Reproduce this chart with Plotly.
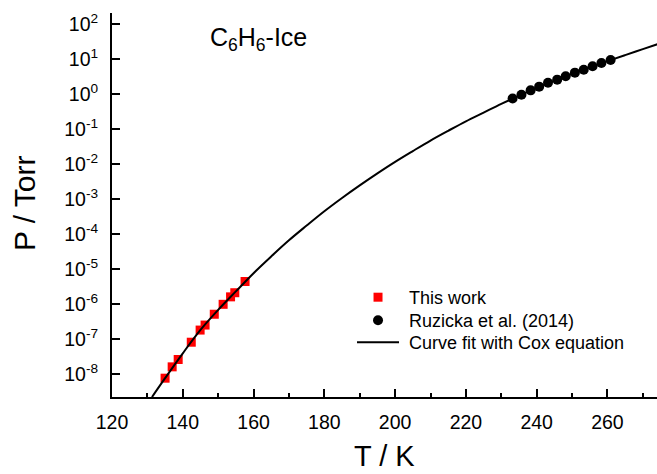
import plotly.graph_objects as go

# This work (red squares)
T_this = [135.0, 137.0, 138.7, 142.4, 144.9, 146.3, 148.9, 151.4, 153.5, 154.7, 157.6]
P_this = [7.6e-9, 1.6e-8, 2.6e-8, 8.1e-8, 1.8e-7, 2.5e-7, 5.1e-7, 9.8e-7, 1.6e-6, 2.1e-6, 4.4e-6]

# Ruzicka et al. (2014) (black circles)
T_ruz = [233.2, 235.7, 238.3, 240.7, 243.2, 245.8, 248.2, 250.8, 253.3, 255.8, 258.3, 260.9]
P_ruz = [0.74, 0.95, 1.27, 1.62, 2.10, 2.57, 3.20, 4.07, 4.95, 6.17, 7.69, 9.33]

# Cox-equation fit curve
T_fit = [131.3, 135, 140, 145, 150, 155, 160, 165, 170, 175, 180, 185, 190, 195, 200,
         205, 210, 215, 220, 225, 230, 235, 240, 245, 250, 255, 260, 265, 270, 275]
P_fit = [2.19e-9, 7.6e-9, 3.9e-8, 1.82e-7, 6.8e-7, 2.29e-6, 7.6e-6, 2.29e-5, 6.6e-5, 1.74e-4,
         4.47e-4, 1.07e-3, 2.45e-3, 5.4e-3, 1.15e-2, 2.34e-2, 4.68e-2, 8.9e-2, 0.166, 0.295,
         0.525, 0.89, 1.51, 2.40, 3.80, 5.75, 8.7, 12.9, 19.1, 28.2]

y_tickvals = [1e-8, 1e-7, 1e-6, 1e-5, 1e-4, 1e-3, 1e-2, 1e-1, 1e0, 1e1, 1e2]
y_ticktext = ["10<sup>-8</sup>", "10<sup>-7</sup>", "10<sup>-6</sup>", "10<sup>-5</sup>",
              "10<sup>-4</sup>", "10<sup>-3</sup>", "10<sup>-2</sup>", "10<sup>-1</sup>",
              "10<sup>0</sup>", "10<sup>1</sup>", "10<sup>2</sup>"]

FONT = "Arial, Liberation Sans, sans-serif"
NB = "\u00a0"

fig = go.Figure()
fig.add_trace(go.Scatter(x=T_this, y=P_this, mode="markers", name=NB + "This work", legend="legend",
                         marker=dict(symbol="square", color="#ff0000", size=9, line=dict(width=0))))
fig.add_trace(go.Scatter(x=T_ruz, y=P_ruz, mode="markers", name=NB + "Ruzicka et al. (2014)", legend="legend2",
                         marker=dict(symbol="circle", color="black", size=10, line=dict(width=0))))
fig.add_trace(go.Scatter(x=T_fit, y=P_fit, mode="lines", name=NB + "Curve fit with Cox equation", legend="legend3",
                         line=dict(color="black", width=2, shape="spline", smoothing=1.0)))

leg_common = dict(x=0.4404, xanchor="left", yanchor="top",
                  font=dict(size=18, family=FONT), bgcolor="rgba(0,0,0,0)", itemwidth=42)

fig.update_layout(
    width=657, height=474,
    margin=dict(l=112, r=0, t=13, b=77),
    paper_bgcolor="white", plot_bgcolor="white",
    font=dict(family=FONT, color="black"),
    showlegend=True,
    legend=dict(y=0.3073, **leg_common),
    legend2=dict(y=0.2474, **leg_common),
    legend3=dict(y=0.1901, **leg_common),
    xaxis=dict(range=[120, 274], showline=True, linecolor="black", linewidth=2,
               ticks="inside", ticklen=8, tickwidth=1.5, tickcolor="black",
               dtick=20, tick0=120, showgrid=False, zeroline=False,
               tickfont=dict(size=19.5, family=FONT), ticklabelstandoff=7,
               minor=dict(ticks="inside", ticklen=4, tickwidth=1.5, tickcolor="black", dtick=10, showgrid=False)),
    yaxis=dict(type="log", range=[-8.657, 2.314], showline=True, linecolor="black", linewidth=2,
               ticks="inside", ticklen=8, tickwidth=1.5, tickcolor="black",
               tickvals=y_tickvals, ticktext=y_ticktext, showgrid=False, zeroline=False,
               tickfont=dict(size=19.5, family=FONT), ticklabelstandoff=8),
    annotations=[
        dict(text="T / K", xref="paper", yref="paper", x=0.5, y=-0.1536, xanchor="center", yanchor="middle",
             showarrow=False, font=dict(size=29, family=FONT)),
        dict(text="P / Torr", xref="paper", yref="paper", x=-0.1615, y=0.505, xanchor="center", yanchor="middle",
             textangle=-90, showarrow=False, font=dict(size=30, family=FONT)),
        dict(text="C<sub>6</sub>H<sub>6</sub>-Ice", xref="paper", yref="paper", x=0.176, y=0.932,
             xanchor="left", yanchor="middle", showarrow=False, font=dict(size=25, family=FONT)),
    ],
)

fig.write_html("out.html")
